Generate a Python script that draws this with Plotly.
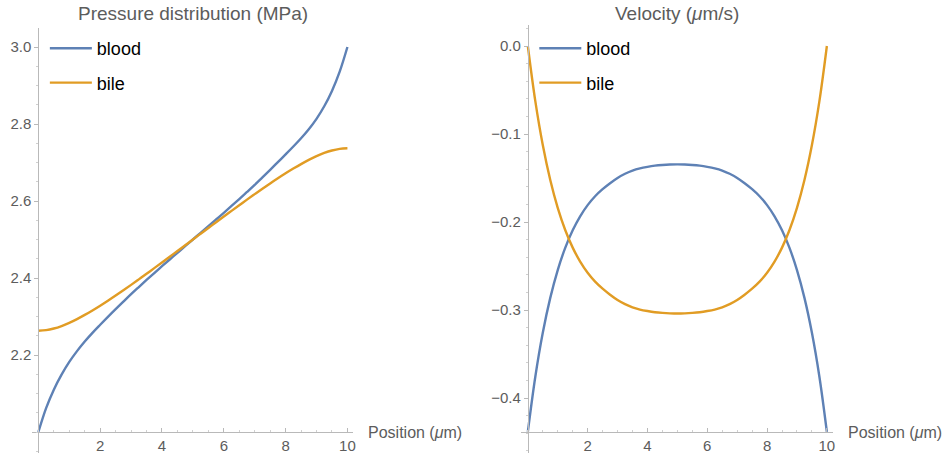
import plotly.graph_objects as go

# Sample positions along the channel (µm), every 0.25
position = [0, 0.25, 0.5, 0.75, 1, 1.25, 1.5, 1.75, 2, 2.25, 2.5, 2.75, 3, 3.25,
            3.5, 3.75, 4, 4.25, 4.5, 4.75, 5, 5.25, 5.5, 5.75, 6, 6.25, 6.5,
            6.75, 7, 7.25, 7.5, 7.75, 8, 8.25, 8.5, 8.75, 9, 9.25, 9.5, 9.75, 10]

# Pressure distribution (MPa)
pressure_blood = [2.000, 2.062, 2.110, 2.149, 2.182, 2.210, 2.235, 2.2575, 2.2785,
                  2.299, 2.319, 2.3385, 2.358, 2.3766, 2.3949, 2.4129, 2.4306,
                  2.4481, 2.4654, 2.4826, 2.500, 2.5174, 2.5346, 2.5519, 2.5694,
                  2.5871, 2.6051, 2.6234, 2.642, 2.6615, 2.681, 2.701, 2.721,
                  2.7415, 2.763, 2.7865, 2.8135, 2.846, 2.886, 2.936, 3.000]
pressure_bile = [2.263, 2.2645, 2.2688, 2.2753, 2.2836, 2.2933, 2.3041, 2.3158,
                 2.3281, 2.3410, 2.3544, 2.3681, 2.3821, 2.3964, 2.4109, 2.4256,
                 2.4404, 2.4552, 2.4701, 2.4850, 2.500, 2.5150, 2.5299, 2.5448,
                 2.5596, 2.5744, 2.5891, 2.6036, 2.6179, 2.6319, 2.6456, 2.6590,
                 2.6719, 2.6842, 2.6959, 2.7067, 2.7164, 2.7247, 2.7312, 2.7355,
                 2.737]

# Velocity (µm/s)
velocity_blood = [-0.4385, -0.3758, -0.3259, -0.2862, -0.2546, -0.2294, -0.2094,
                  -0.1935, -0.1808, -0.1707, -0.1627, -0.1559, -0.1499, -0.1452,
                  -0.1415, -0.1390, -0.1373, -0.1360, -0.1352, -0.1347, -0.1345,
                  -0.1347, -0.1352, -0.1360, -0.1373, -0.1390, -0.1415, -0.1452,
                  -0.1499, -0.1559, -0.1627, -0.1707, -0.1808, -0.1935, -0.2094,
                  -0.2294, -0.2546, -0.2862, -0.3259, -0.3758, -0.4385]
velocity_bile = [0.000, -0.0627, -0.1126, -0.1523, -0.1839, -0.2091, -0.2291,
                 -0.2450, -0.2577, -0.2678, -0.2758, -0.2826, -0.2886, -0.2933,
                 -0.2970, -0.2995, -0.3012, -0.3025, -0.3033, -0.3038, -0.3040,
                 -0.3038, -0.3033, -0.3025, -0.3012, -0.2995, -0.2970, -0.2933,
                 -0.2886, -0.2826, -0.2758, -0.2678, -0.2577, -0.2450, -0.2291,
                 -0.2091, -0.1839, -0.1523, -0.1126, -0.0627, 0.000]

series_names = ["blood", "bile"]
position_ticks = [2, 4, 6, 8, 10]
pressure_ticks = [2.2, 2.4, 2.6, 2.8, 3.0]
pressure_tick_labels = ["2.2", "2.4", "2.6", "2.8", "3.0"]
velocity_ticks = [0.0, -0.1, -0.2, -0.3, -0.4]
velocity_tick_labels = ["0.0", "\u22120.1", "\u22120.2", "\u22120.3", "\u22120.4"]

BLUE = "#5E81B5"
ORANGE = "#E19C24"
AXIS = "#b9b9b9"
LABEL = "#5c5c5c"
FONT = "Liberation Sans, Arial, sans-serif"

W, H = 952, 459


def fx(px):
    return px / W


def fy(px):
    return (H - px) / H


fig = go.Figure()

panels = [
    ("x", "y", "legend", pressure_blood, pressure_bile),
    ("x2", "y2", "legend2", velocity_blood, velocity_bile),
]
for xa, ya, leg, blood, bile in panels:
    for name, values, color in zip(series_names, [blood, bile], [BLUE, ORANGE]):
        fig.add_trace(go.Scatter(
            x=position, y=values, name=name, mode="lines",
            line=dict(color=color, width=2.4, shape="spline", smoothing=1.0),
            xaxis=xa, yaxis=ya, legend=leg, legendgroup=leg + name,
            hoverinfo="skip",
        ))

tick_font = dict(family=FONT, size=15, color=LABEL)


def x_axis(domain, rng, pos):
    return dict(
        domain=domain, range=rng, anchor="free", position=pos,
        showline=True, linecolor=AXIS, linewidth=1,
        showgrid=False, zeroline=False,
        tickmode="array", tickvals=position_ticks,
        ticktext=[str(t) for t in position_ticks],
        ticks="inside", ticklen=4, tickcolor=AXIS, tickfont=tick_font,
        minor=dict(tickmode="linear", tick0=0, dtick=0.5, ticks="inside",
                   ticklen=2, tickcolor="#d0d0d0"),
        fixedrange=True,
    )


def y_axis(domain, rng, pos, vals, text, minor_step):
    return dict(
        domain=domain, range=rng, anchor="free", position=pos,
        showline=True, linecolor=AXIS, linewidth=1,
        showgrid=False, zeroline=False,
        tickmode="array", tickvals=vals, ticktext=text,
        ticks="outside", ticklen=4, tickcolor=AXIS, tickfont=tick_font,
        minor=dict(tickmode="linear", tick0=0, dtick=minor_step, ticks="outside",
                   ticklen=2, tickcolor="#d0d0d0"),
        fixedrange=True,
    )


legend_style = dict(
    font=dict(family=FONT, size=18, color="black"),
    bgcolor="rgba(0,0,0,0)", borderwidth=0,
    traceorder="grouped", tracegroupgap=8, itemwidth=42,
    xanchor="left", yanchor="top", itemclick=False, itemdoubleclick=False,
)

fig.update_layout(
    width=W, height=H, autosize=False,
    margin=dict(l=0, r=0, t=0, b=0, pad=0),
    plot_bgcolor="white", paper_bgcolor="white",
    showlegend=True,
    xaxis=x_axis([fx(32), fx(354)], [-0.2097, 10.177], fy(432)),
    yaxis=y_axis([fy(453), fy(28)], [1.94545, 3.04935], fx(38.5),
                 pressure_ticks, pressure_tick_labels, 0.05),
    xaxis2=x_axis([fx(522.7), fx(836)], [-0.2267, 10.217], fy(432)),
    yaxis2=y_axis([fy(453), fy(25)], [-0.4625, 0.02386], fx(529.5),
                  velocity_ticks, velocity_tick_labels, 0.02),
    legend=dict(x=fx(45), y=fy(30), **legend_style),
    legend2=dict(x=fx(536), y=fy(30), **legend_style),
)

title_font = dict(family=FONT, size=19, color=LABEL)
label_font = dict(family=FONT, size=16, color=LABEL)
annotations = [
    dict(text="Pressure distribution (MPa)", x=fx(193.5), y=fy(14),
         font=title_font, xanchor="center", yanchor="middle"),
    dict(text="Velocity (<i>\u03bc</i>m/s)", x=fx(679), y=fy(14),
         font=title_font, xanchor="center", yanchor="middle"),
    dict(text="Position (<i>\u03bc</i>m)", x=fx(367), y=fy(432),
         font=label_font, xanchor="left", yanchor="middle"),
    dict(text="Position (<i>\u03bc</i>m)", x=fx(848.5), y=fy(432),
         font=label_font, xanchor="left", yanchor="middle"),
]
for a in annotations:
    fig.add_annotation(xref="paper", yref="paper", showarrow=False, **a)

fig.write_html("out.html", config={"displayModeBar": False})
